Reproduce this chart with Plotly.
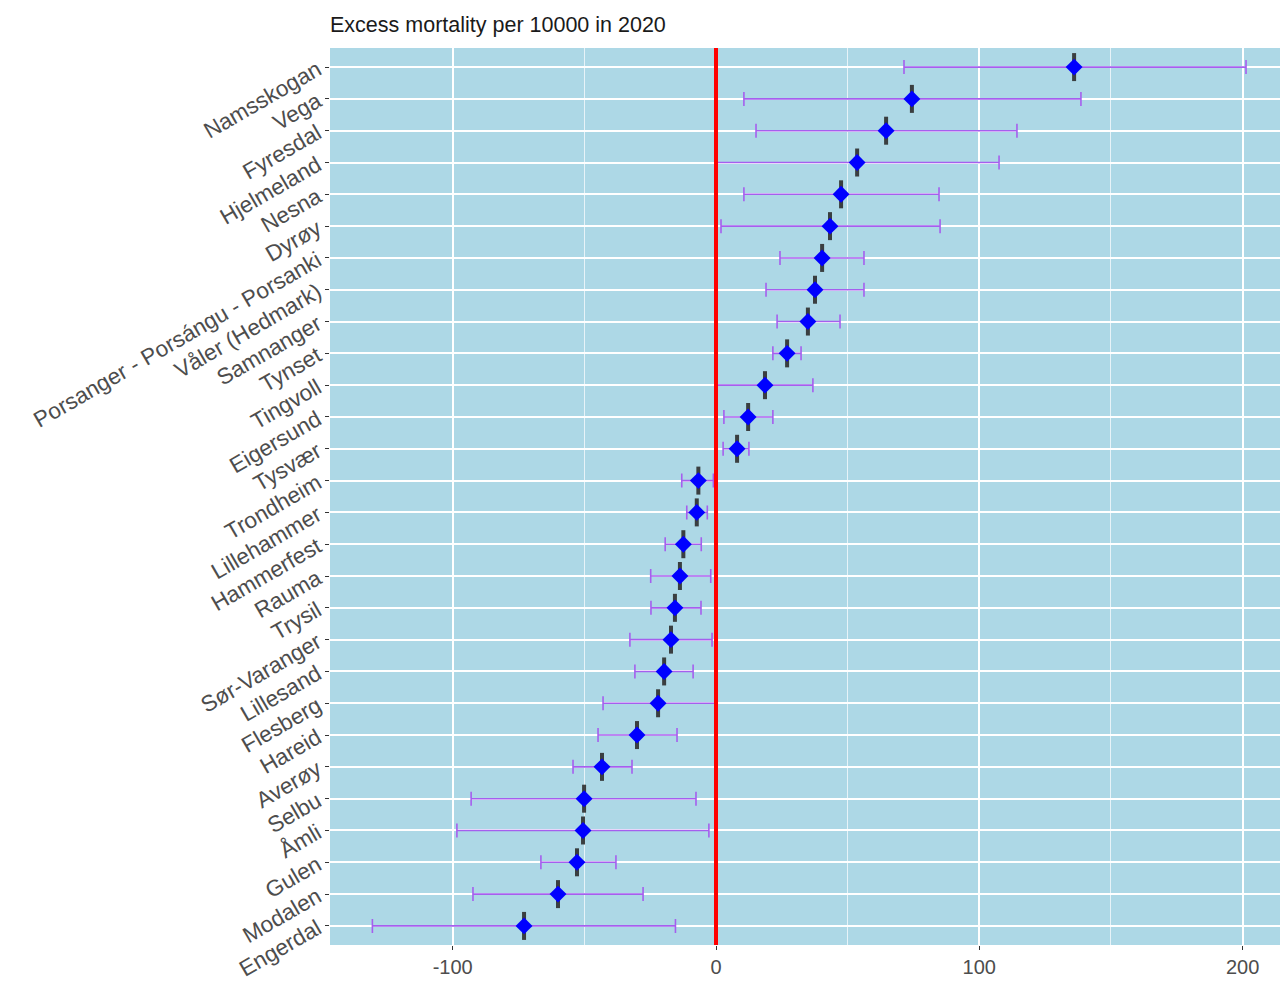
import plotly.graph_objects as go

municipalities = ["Namsskogan", "Vega", "Fyresdal", "Hjelmeland", "Nesna", "Dyrøy",
                  "Porsanger - Porsángu - Porsanki", "Våler (Hedmark)", "Samnanger", "Tynset",
                  "Tingvoll", "Eigersund", "Tysvær", "Trondheim", "Lillehammer", "Hammerfest",
                  "Rauma", "Trysil", "Sør-Varanger", "Lillesand", "Flesberg", "Hareid",
                  "Averøy", "Selbu", "Åmli", "Gulen", "Modalen", "Engerdal"]
excess = [136.0, 74.4, 64.6, 53.6, 47.5, 43.3, 40.3, 37.6, 34.9, 27.0,
          18.6, 12.2, 8.0, -6.7, -7.3, -12.4, -13.7, -15.6, -17.1, -19.7,
          -22.0, -30.0, -43.3, -50.1, -50.5, -52.8, -60.0, -72.9]
lower = [71.4, 10.6, 15.2, 0.0, 10.6, 1.9, 24.3, 19.0, 23.2, 21.6,
         0.4, 3.0, 2.7, -13.0, -11.1, -19.3, -24.8, -24.7, -32.7, -30.8,
         -42.9, -44.8, -54.3, -93.0, -98.4, -66.5, -92.3, -130.5]
upper = [201.3, 138.6, 114.3, 107.5, 84.7, 85.1, 56.2, 56.2, 47.1, 32.3,
         36.8, 21.6, 12.5, -1.0, -3.3, -5.6, -2.0, -5.7, -1.5, -8.7,
         -0.4, -14.8, -31.9, -7.6, -2.7, -38.0, -27.7, -15.4]
x_ticks = [-100, 0, 100, 200]
title_text = "Excess mortality per 10000 in 2020"

plus = [u - e for u, e in zip(upper, excess)]
minus = [e - l for e, l in zip(excess, lower)]

fig = go.Figure()
fig.add_trace(go.Scatter(
    x=excess, y=municipalities, mode="markers",
    marker=dict(size=1, color="rgba(0,0,0,0)"),
    error_x=dict(type="data", symmetric=False, array=plus, arrayminus=minus,
                 color="rgb(165,95,238)", thickness=1.6, width=7),
    hoverinfo="skip", showlegend=False))
fig.add_trace(go.Scatter(
    x=excess, y=municipalities, mode="markers",
    marker=dict(symbol="line-ns", size=20, line=dict(width=4, color="rgba(45,45,45,0.9)")),
    showlegend=False))
fig.add_trace(go.Scatter(
    x=excess, y=municipalities, mode="markers",
    marker=dict(symbol="diamond", size=13, color="blue", line=dict(width=0)),
    showlegend=False))

fig.add_shape(type="line", xref="x", yref="paper", x0=0, x1=0, y0=0, y1=1,
              line=dict(color="red", width=4), layer="above")

fig.update_layout(
    width=1280, height=981,
    margin=dict(l=330, r=0, t=48, b=36),
    paper_bgcolor="white", plot_bgcolor="#ADD8E6",
    font=dict(family="Liberation Sans, Arial, sans-serif", color="#4D4D4D"),
    title=dict(text=title_text, x=330/1280, xref="container", xanchor="left",
               y=1 - 24/981, yref="container", yanchor="middle",
               font=dict(size=21.5, color="#1A1A1A")),
    showlegend=False,
)
fig.update_xaxes(
    range=[-146.6, 214.2], tickvals=x_ticks, ticktext=[str(v) for v in x_ticks],
    showgrid=True, gridcolor="white", gridwidth=2,
    minor=dict(tickvals=[-50, 50, 150], showgrid=True, gridcolor="rgba(255,255,255,0.7)", gridwidth=1),
    zeroline=False, ticks="outside", ticklen=4, tickcolor="#333333", tickwidth=1,
    tickfont=dict(size=20, color="#4D4D4D"), showline=False)
fig.update_yaxes(
    type="category", categoryorder="array", categoryarray=municipalities,
    range=[len(municipalities) - 0.4, -0.6],
    showgrid=True, gridcolor="white", gridwidth=2, zeroline=False,
    ticks="outside", ticklen=4, tickcolor="#333333", tickwidth=1,
    ticklabelstandoff=3,
    tickangle=-30, tickfont=dict(size=22.5, color="#4D4D4D"), automargin=False)

fig.write_html("out.html", config={"displayModeBar": False},
               post_script="document.body.style.margin='0';")
